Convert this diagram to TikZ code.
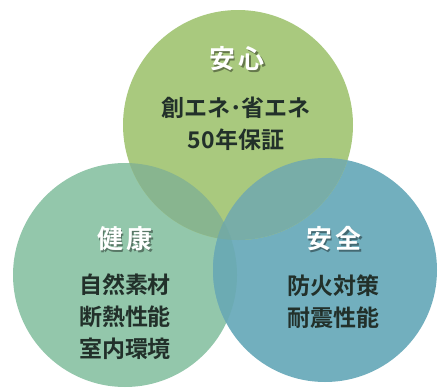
\documentclass[tikz,border=0pt]{standalone}
\usepackage{fontspec}
\newfontfamily\jp{Noto Sans CJK JP}[BoldFont={Noto Sans CJK JP Bold}]
\definecolor{topc}{HTML}{A9C97E}
\definecolor{leftc}{HTML}{93C7AB}
\definecolor{rightc}{HTML}{72AFBE}
\definecolor{tlc}{HTML}{88B58F}
\definecolor{trc}{HTML}{78ADA8}
\definecolor{lrc}{HTML}{6CABB3}
\definecolor{midc}{HTML}{74AAA3}
\definecolor{bodyc}{HTML}{22302A}
\tikzset{
  ttl/.style={font=\jp\bfseries\fontsize{26}{30}\selectfont, text=white, inner sep=0pt},
  ttlshadow/.style={font=\jp\bfseries\fontsize{26}{30}\selectfont, text=black, opacity=0.4, inner sep=0pt},
  body/.style={font=\jp\bfseries\fontsize{23}{32}\selectfont, text=bodyc, align=center, inner sep=0pt},
}
\begin{document}
\begin{tikzpicture}[x=1pt,y=-1pt]
\useasboundingbox (0,0) rectangle (440,389);
\fill[white] (0,0) rectangle (440,389);
\coordinate (T) at (238,125);
\coordinate (L) at (125,275);
\coordinate (R) at (325,270);
\def\rT{115}\def\rL{112}\def\rR{112}
% base circles
\fill[leftc] (L) circle (\rL);
\fill[rightc] (R) circle (\rR);
\fill[topc] (T) circle (\rT);
% overlaps
\begin{scope}\clip (T) circle (\rT); \fill[tlc] (L) circle (\rL); \end{scope}
\begin{scope}\clip (T) circle (\rT); \fill[trc] (R) circle (\rR); \end{scope}
\begin{scope}\clip (L) circle (\rL); \fill[lrc] (R) circle (\rR); \end{scope}
\begin{scope}\clip (L) circle (\rL); \clip (R) circle (\rR); \fill[midc] (T) circle (\rT); \end{scope}
% title shadows
\node[ttlshadow] (sA) at (238.2,60.4) {安\hspace{4pt}心};
\node[ttlshadow] (sB) at (126.2,240.4) {健\hspace{4pt}康};
\node[ttlshadow] (sC) at (335.2,240.4) {安\hspace{4pt}全};
% titles
\node[ttl] (tA) at (237,59) {安\hspace{4pt}心};
\node[ttl] (tB) at (125,239) {健\hspace{4pt}康};
\node[ttl] (tC) at (334,239) {安\hspace{4pt}全};
% bodies
\node[body] (bA) at (236,124) {創エネ･省エネ\\50年保証};
\node[body] (bB) at (125,317) {自然素材\\断熱性能\\室内環境};
\node[body] (bC) at (333,302) {防火対策\\耐震性能};
\end{tikzpicture}
\end{document}
